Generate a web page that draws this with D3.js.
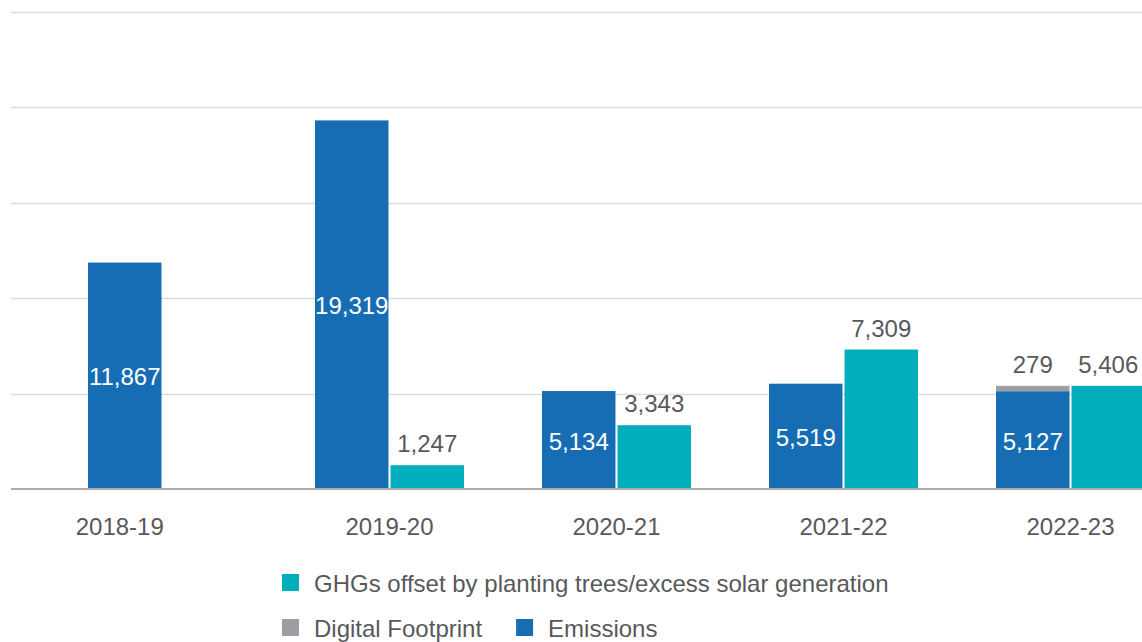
<!DOCTYPE html>
<html>
<head>
<meta charset="utf-8">
<script src="https://cdn.jsdelivr.net/npm/d3@7"></script>
<style>
  html, body { margin: 0; padding: 0; background: #fff; }
  svg { display: block; font-family: "Liberation Sans", Arial, Helvetica, sans-serif; }
</style>
</head>
<body>
<svg id="chart" width="1142" height="642"></svg>
<script>
const categories = ["2018-19", "2019-20", "2020-21", "2021-22", "2022-23"];
const emissions = [11867, 19319, 5134, 5519, 5127];
const digitalFootprint = [0, 0, 0, 0, 279];
const offsets = [null, 1247, 3343, 7309, 5406];
const yTicks = [0, 5000, 10000, 15000, 20000, 25000];
const legendRow1 = ["GHGs offset by planting trees/excess solar generation"];
const legendRow2 = ["Digital Footprint", "Emissions"];

const colors = {
  emissions: "#176db3",
  offset: "#00aebc",
  digital: "#9d9ea3",
  text: "#58595b",
  grid: "#dcdcdc",
  base: "#ababab"
};

const FS = 24;
const svg = d3.select("#chart");
const fmt = d3.format(",");

const y = d3.scaleLinear().domain([0, 25000]).range([489, 12]);
const x0 = d3.scaleBand().domain(categories).range([88, 1145]).paddingInner(0.3436).paddingOuter(0);
const x1 = d3.scaleBand().domain(["emissions", "offset"]).range([0, x0.bandwidth()]).paddingInner(0.027);

// gridlines
svg.append("g").selectAll("line").data(yTicks.filter(t => t > 0)).join("line")
  .attr("x1", 11).attr("x2", 1142)
  .attr("y1", d => Math.round(y(d)) + 0.5).attr("y2", d => Math.round(y(d)) + 0.5)
  .attr("stroke", colors.grid).attr("stroke-width", 1.3);

const rows = categories.map((c, i) => ({
  cat: c, em: emissions[i], dig: digitalFootprint[i], off: offsets[i]
}));

const g = svg.append("g");
// emissions bars
g.selectAll("rect.em").data(rows).join("rect").attr("class", "em")
  .attr("x", d => x0(d.cat) + x1("emissions"))
  .attr("width", x1.bandwidth())
  .attr("y", d => y(d.em))
  .attr("height", d => y(0) - y(d.em))
  .attr("fill", colors.emissions);

// digital footprint stacked
g.selectAll("rect.dig").data(rows.filter(d => d.dig > 0)).join("rect").attr("class", "dig")
  .attr("x", d => x0(d.cat) + x1("emissions"))
  .attr("width", x1.bandwidth())
  .attr("y", d => y(d.em + d.dig))
  .attr("height", d => y(d.em) - y(d.em + d.dig))
  .attr("fill", colors.digital);

// offset bars
g.selectAll("rect.off").data(rows.filter(d => d.off != null)).join("rect").attr("class", "off")
  .attr("x", d => x0(d.cat) + x1("offset"))
  .attr("width", x1.bandwidth())
  .attr("y", d => y(d.off))
  .attr("height", d => y(0) - y(d.off))
  .attr("fill", colors.offset);

// baseline
svg.append("line").attr("x1", 11).attr("x2", 1142)
  .attr("y1", y(0)).attr("y2", y(0))
  .attr("stroke", colors.base).attr("stroke-width", 2);

// labels inside emissions bars
g.selectAll("text.em").data(rows).join("text").attr("class", "em")
  .attr("x", d => x0(d.cat) + x1("emissions") + x1.bandwidth() / 2)
  .attr("y", d => (y(d.em) + y(0)) / 2)
  .attr("dy", "0.4em")
  .attr("text-anchor", "middle")
  .attr("fill", "#fff").attr("font-size", FS)
  .text(d => fmt(d.em));

// digital label
g.selectAll("text.dig").data(rows.filter(d => d.dig > 0)).join("text").attr("class", "dig")
  .attr("x", d => x0(d.cat) + x1("emissions") + x1.bandwidth() / 2)
  .attr("y", d => y(d.em + d.dig) - 13)
  .attr("text-anchor", "middle")
  .attr("fill", colors.text).attr("font-size", FS)
  .text(d => fmt(d.dig));

// offset labels
g.selectAll("text.off").data(rows.filter(d => d.off != null)).join("text").attr("class", "off")
  .attr("x", d => x0(d.cat) + x1("offset") + x1.bandwidth() / 2)
  .attr("y", d => y(d.off) - 13)
  .attr("text-anchor", "middle")
  .attr("fill", colors.text).attr("font-size", FS)
  .text(d => fmt(d.off));

// category labels: centred under the visible bars
svg.append("g").selectAll("text").data(rows).join("text")
  .attr("x", d => d.off != null ? x0(d.cat) + x0.bandwidth() / 2 : x0(d.cat) + x1.bandwidth() / 2 - 5)
  .attr("y", 535)
  .attr("text-anchor", "middle")
  .attr("fill", colors.text).attr("font-size", FS)
  .text(d => d.cat);

// legend
const legendColors = {
  "GHGs offset by planting trees/excess solar generation": colors.offset,
  "Digital Footprint": colors.digital,
  "Emissions": colors.emissions
};
function legendRow(items, yTop) {
  let xPos = 282;
  items.forEach(name => {
    svg.append("rect").attr("x", xPos).attr("y", yTop).attr("width", 17).attr("height", 17)
      .attr("fill", legendColors[name]);
    const t = svg.append("text").attr("x", xPos + 32).attr("y", yTop + 17.5)
      .attr("fill", colors.text).attr("font-size", FS).text(name);
    xPos = xPos + 32 + t.node().getComputedTextLength() + 34;
  });
}
legendRow(legendRow1, 574);
legendRow(legendRow2, 619);
</script>
</body>
</html>
